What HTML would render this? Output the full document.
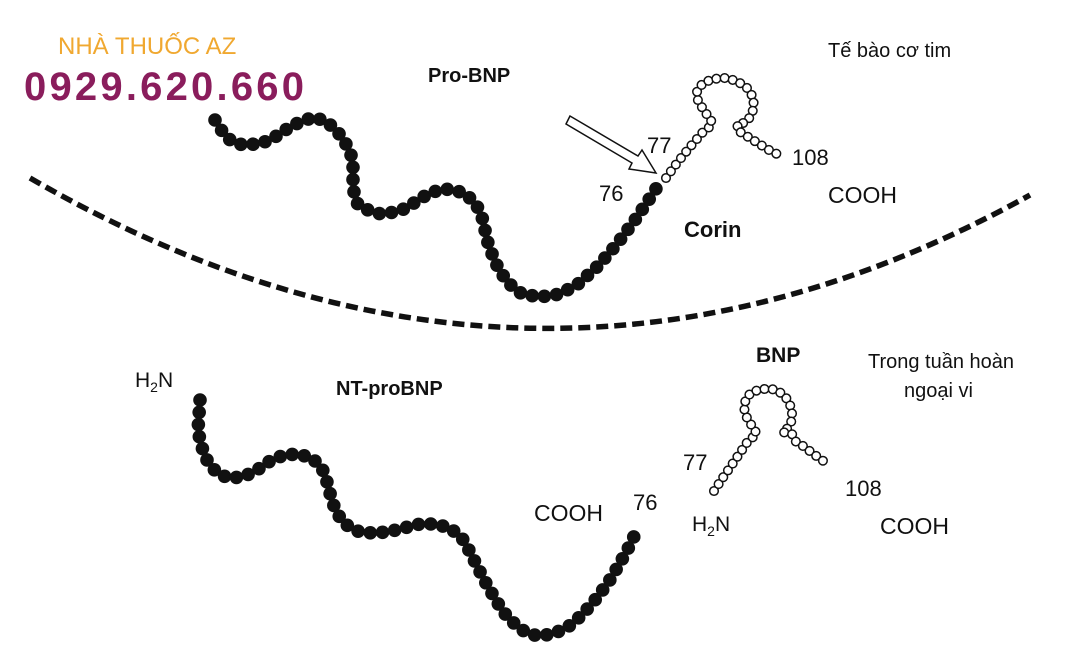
<!DOCTYPE html>
<html><head><meta charset="utf-8"><style>
html,body{margin:0;padding:0;background:#fff;width:1087px;height:661px;overflow:hidden}
svg{display:block}
text{font-family:"Liberation Sans",sans-serif;fill:#111}
</style></head><body>
<svg id="s" width="1087" height="661" viewBox="0 0 1087 661" xmlns="http://www.w3.org/2000/svg">
<text x="58" y="54" font-size="24" style="fill:#f0a830">NHÀ THUỐC AZ</text>
<text x="24" y="100" font-size="40" font-weight="bold" style="fill:#8a1d5c" textLength="280">0929.620.660</text>
<text x="428" y="82" font-size="20" font-weight="bold">Pro-BNP</text>
<text x="828" y="57" font-size="20">Tế bào cơ tim</text>
<text x="647" y="153" font-size="22">77</text>
<text x="599" y="201" font-size="22">76</text>
<text x="792" y="165" font-size="22">108</text>
<text x="828" y="203" font-size="23">COOH</text>
<text x="684" y="237" font-size="22" font-weight="bold">Corin</text>
<text x="756" y="362" font-size="21" font-weight="bold">BNP</text>
<text x="868" y="368" font-size="20">Trong tuần hoàn</text>
<text x="904" y="397" font-size="20">ngoại vi</text>
<text x="135" y="387" font-size="21">H<tspan font-size="14" dy="5">2</tspan><tspan dy="-5">N</tspan></text>
<text x="336" y="395" font-size="20" font-weight="bold">NT-proBNP</text>
<text x="683" y="470" font-size="22">77</text>
<text x="845" y="496" font-size="22">108</text>
<text x="534" y="521" font-size="23">COOH</text>
<text x="633" y="510" font-size="22">76</text>
<text x="692" y="531" font-size="21">H<tspan font-size="14" dy="5">2</tspan><tspan dy="-5">N</tspan></text>
<text x="880" y="534" font-size="23">COOH</text>
<path d="M30,178 Q535,470 1030,195" fill="none" stroke="#111" stroke-width="5.5" stroke-dasharray="12 6"/>
<polygon points="570,116 566,124 632,163 629,169 656,173 642,150 638,156" fill="#fff" stroke="#111" stroke-width="1.5"/>
<g id="g"></g>
</svg>
<script>
var NS="http://www.w3.org/2000/svg",g=document.getElementById('g');
function beads(d,step,r,fill,sw){
 var p=document.createElementNS(NS,'path');p.setAttribute('d',d);p.setAttribute('fill','none');g.appendChild(p);
 var L=p.getTotalLength();
 for(var l=0;l<=L+0.1;l+=step){var pt=p.getPointAtLength(Math.min(l,L));
  var c=document.createElementNS(NS,'circle');c.setAttribute('cx',pt.x);c.setAttribute('cy',pt.y);c.setAttribute('r',r);
  c.setAttribute('fill',fill);c.setAttribute('stroke','#111');c.setAttribute('stroke-width',sw);g.appendChild(c);}
}
function poly(a){return 'M'+a.map(function(p){return p.join(',')}).join(' L');}
beads(poly([[215,120],[222,131],[231,141],[243,145],[256,144],[268,141],[280,134],[291,126],[303,121],[314,117],[327,122],[337,131],[345,142],[351,155],[353,167],[353,180],[354,192],[358,205],[370,211],[381,214],[395,212],[407,208],[418,200],[430,193],[443,189],[455,190],[467,195],[477,206],[483,220],[487,240],[495,262],[507,282],[522,294],[540,297],[560,294],[578,284],[598,266],[617,244],[635,220],[650,198],[661,181]]),12.3,6.8,'#111',0);
beads(poly([[666,178],[677,163],[690,147],[703,132],[712,125],[711,120],[705,112],[698,101],[697,91],[703,83],[713,79],[725,78],[737,81],[747,88],[753,97],[754,107],[751,116],[745,123],[738,123],[737,130],[745,135],[753,140],[761,145],[769,150],[781,156]]),8.3,4.3,'#fff',1.5);
beads(poly([[200,400],[199,415],[198,430],[201,445],[207,460],[216,472],[228,478],[243,477],[257,470],[270,461],[284,455],[298,454],[312,458],[322,468],[327,482],[331,497],[336,512],[345,524],[357,531],[372,533],[388,532],[404,528],[420,524],[435,524],[450,528],[462,538],[470,552],[478,568],[487,585],[497,602],[508,618],[522,630],[537,636],[553,634],[568,627],[582,615],[595,600],[608,583],[620,563],[630,545],[637,530]]),12.3,6.8,'#111',0);
beads(poly([[714,491],[722,479],[731,466],[740,453],[748,441],[757,434],[752,426],[747,418],[744,408],[746,398],[752,392],[762,389],[772,389],[781,393],[788,400],[792,410],[792,420],[788,428],[782,432],[792,434],[795,441],[803,446],[811,452],[819,458],[829,465]]),8.3,4.3,'#fff',1.5);
</script>
</body></html>
